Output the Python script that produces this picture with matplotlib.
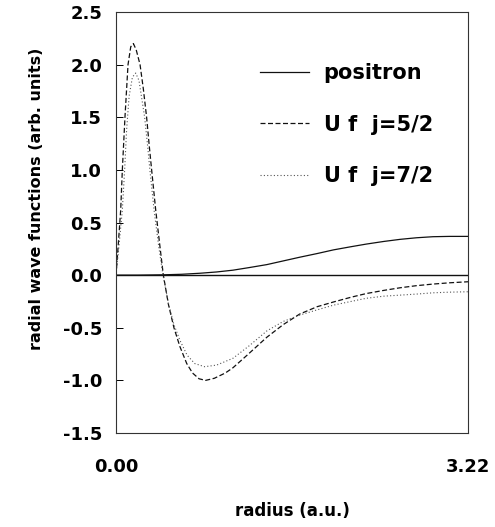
import matplotlib
matplotlib.use("Agg")
import matplotlib.pyplot as plt

# ── Data ──────────────────────────────────────────────────────────────────────
r_pos = [0.00, 0.20, 0.43, 0.60, 0.77, 0.92, 1.07, 1.22, 1.38, 1.53, 1.68,
         1.84, 1.99, 2.15, 2.29, 2.45, 2.60, 2.75, 2.90, 3.05, 3.22]
v_pos = [0.000, 0.000, 0.003, 0.008, 0.018, 0.030, 0.047, 0.072, 0.100, 0.135, 0.170,
         0.205, 0.240, 0.270, 0.295, 0.320, 0.340, 0.355, 0.365, 0.368, 0.368]

r_52 = [0.000, 0.020, 0.043, 0.058, 0.082, 0.110, 0.135, 0.159, 0.185, 0.220,
        0.250, 0.280, 0.305, 0.326, 0.363, 0.400, 0.433, 0.480, 0.530, 0.585,
        0.647, 0.700, 0.760, 0.820, 0.900, 1.000, 1.070, 1.200, 1.380, 1.530,
        1.680, 1.840, 1.990, 2.150, 2.290, 2.450, 2.600, 2.750, 2.900, 3.050, 3.220]
v_52 = [0.00, 0.28, 0.62, 1.00, 1.50, 2.00, 2.17, 2.20, 2.14, 2.00,
        1.77, 1.50, 1.22, 1.00, 0.62, 0.29, 0.00, -0.28, -0.50, -0.68,
        -0.84, -0.93, -0.985, -1.00, -0.98, -0.93, -0.88, -0.76, -0.59, -0.47,
        -0.37, -0.30, -0.255, -0.21, -0.175, -0.145, -0.12, -0.10, -0.085, -0.073, -0.063]

r_72 = [0.000, 0.020, 0.058, 0.079, 0.097, 0.120, 0.150, 0.180, 0.210, 0.240,
        0.262, 0.290, 0.310, 0.348, 0.390, 0.430, 0.480, 0.530, 0.585, 0.650,
        0.720, 0.810, 0.920, 1.070, 1.220, 1.380, 1.530, 1.680, 1.840, 1.990,
        2.150, 2.290, 2.450, 2.600, 2.750, 2.900, 3.050, 3.220]
v_72 = [0.00, 0.20, 0.62, 1.00, 1.38, 1.70, 1.88, 1.92, 1.85, 1.65,
        1.50, 1.22, 1.00, 0.62, 0.28, 0.00, -0.27, -0.47, -0.62, -0.76,
        -0.84, -0.87, -0.855, -0.79, -0.67, -0.53, -0.44, -0.38, -0.33, -0.285,
        -0.25, -0.22, -0.20, -0.19, -0.18, -0.168, -0.162, -0.158]

labels = ["positron", "U f  j=5/2", "U f  j=7/2"]
y_ticks = [-1.5, -1.0, -0.5, 0.0, 0.5, 1.0, 1.5, 2.0, 2.5]
x_ticks = [0.00, 3.22]

# ── Style ─────────────────────────────────────────────────────────────────────
INK = "#111111"
plt.rcParams.update({
    "font.family": "DejaVu Sans",
    "font.weight": "bold",
    "axes.edgecolor": "#333333",
    "axes.linewidth": 0.8,
})

fig = plt.figure(figsize=(4.95, 5.27), dpi=100)
ax = fig.add_axes([116 / 495, 1 - 433 / 527, 352 / 495, 421 / 527])

ax.plot(r_pos, v_pos, color=INK, lw=0.9, label=labels[0])
ax.plot(r_52, v_52, color=INK, lw=0.9, linestyle=(0, (4, 2)), label=labels[1])
ax.plot(r_72, v_72, color="#555555", lw=0.8, linestyle=(0, (1, 2)), label=labels[2])
ax.axhline(0, color=INK, lw=1.0)

ax.set_xlim(0, 3.22)
ax.set_ylim(-1.5, 2.5)

ax.set_yticks(y_ticks)
ax.set_yticklabels([f"{t:.1f}" for t in y_ticks])
ax.set_xticks(x_ticks)
ax.set_xticklabels([f"{t:.2f}" for t in x_ticks])
ax.tick_params(axis="y", direction="in", length=5, width=0.7, pad=10, labelsize=13)
ax.tick_params(axis="x", length=0, pad=18, labelsize=13)

ax.set_xlabel("radius (a.u.)", fontsize=12, fontweight="bold")
ax.set_ylabel("radial wave functions (arb. units)", fontsize=11.5, fontweight="bold")
ax.xaxis.set_label_coords(0.5, -0.163)
ax.yaxis.set_label_coords(-0.205, 0.556)

ax.legend(loc="upper left", bbox_to_anchor=(0.409, 0.879), frameon=False,
          borderpad=0, borderaxespad=0, fontsize=15, handlelength=2.33,
          handletextpad=0.73, labelspacing=1.52)

fig.savefig("out.png", dpi=100, facecolor="white")
